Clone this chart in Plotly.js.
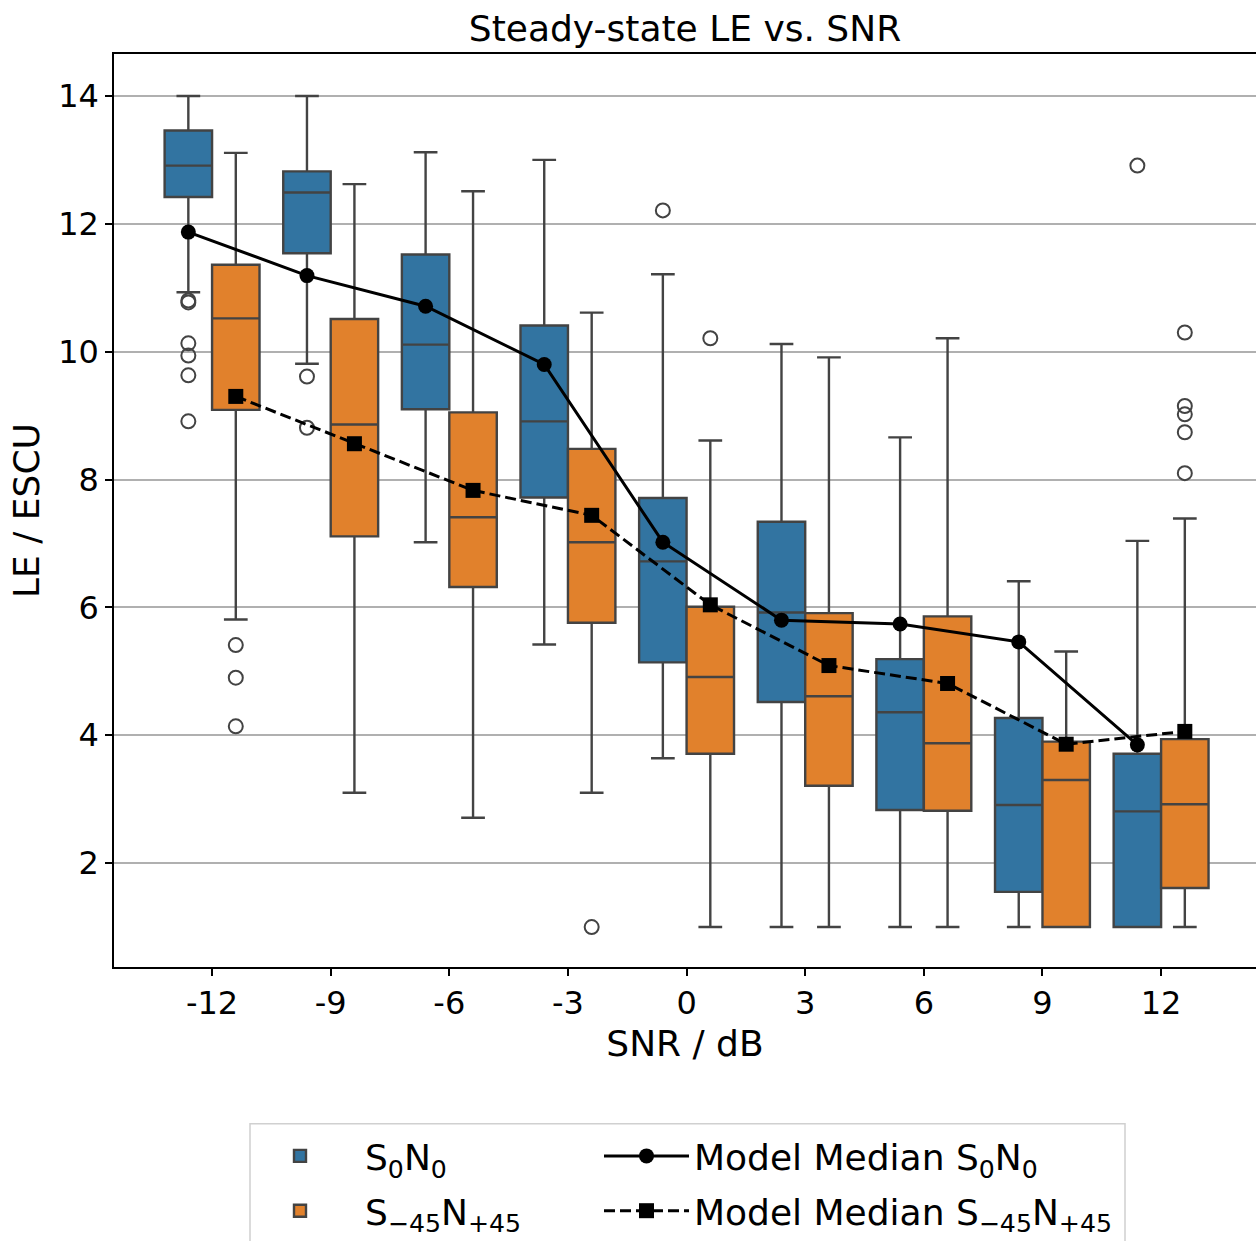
<!DOCTYPE html>
<html>
<head>
<meta charset="utf-8">
<script src="https://cdn.plot.ly/plotly-3.0.1.min.js"></script>
<style>html,body{margin:0;padding:0;background:#fff;}#chart{width:1256px;height:1241px;}</style>
</head>
<body>
<div id="chart"></div>
<script>
// ---- data ----
const snr = [-12, -9, -6, -3, 0, 3, 6, 9, 12];
const snrLabels = ['-12', '-9', '-6', '-3', '0', '3', '6', '9', '12'];

// S0N0 (blue) box statistics
const s0n0Upper = [14.0, 14.0, 13.12, 13.0, 11.21, 10.12, 8.66, 6.41, 7.04];
const s0n0Q3    = [13.46, 12.82, 11.52, 10.41, 7.71, 7.34, 5.19, 4.27, 3.71];
const s0n0Med   = [12.91, 12.49, 10.11, 8.91, 6.72, 5.92, 4.36, 2.91, 2.81];
const s0n0Q1    = [12.42, 11.54, 9.10, 7.72, 5.14, 4.52, 2.83, 1.55, 1.0];
const s0n0Lower = [10.93, 9.81, 7.02, 5.42, 3.64, 1.0, 1.0, 1.0, 1.0];
const s0n0Outliers = [[10.80, 10.77, 10.13, 9.94, 9.63, 8.91], [9.61, 8.81], [], [], [12.21], [], [], [], [12.91]];

// S-45N+45 (orange) box statistics
const s45Upper = [13.11, 12.62, 12.51, 10.61, 8.61, 9.91, 10.21, 5.31, 7.39];
const s45Q3    = [11.36, 10.51, 9.05, 8.48, 6.01, 5.91, 5.86, 3.90, 3.94];
const s45Med   = [10.52, 8.86, 7.41, 7.02, 4.91, 4.61, 3.875, 3.30, 2.92];
const s45Q1    = [9.09, 7.11, 6.32, 5.76, 3.71, 3.21, 2.82, 1.0, 1.61];
const s45Lower = [5.81, 3.10, 2.71, 3.10, 1.0, 1.0, 1.0, 1.0, 1.0];
const s45Outliers = [[5.41, 4.90, 4.14], [], [], [1.0], [10.21], [], [], [], [10.30, 9.15, 9.02, 8.74, 8.10]];

// model medians
const modelS0N0 = [11.87, 11.19, 10.71, 9.80, 7.02, 5.80, 5.74, 5.46, 3.85];
const modelS45  = [9.30, 8.56, 7.83, 7.44, 6.04, 5.09, 4.81, 3.86, 4.06];

// ---- styling ----
const BLUE = '#3274a1', ORANGE = '#e1812c', EDGE = '#434343';
const FONT = 'DejaVu Sans, sans-serif';
const dodge = 0.6, boxW = 1.2;

const xBlue = snr.map(s => s - dodge);
const xOrange = snr.map(s => s + dodge);

function flatten(outl, xs) {
  const ox = [], oy = [];
  outl.forEach((arr, i) => arr.forEach(v => { ox.push(xs[i]); oy.push(v); }));
  return {ox, oy};
}
const ob = flatten(s0n0Outliers, xBlue);
const oo = flatten(s45Outliers, xOrange);

const boxCommon = {
  type: 'box', width: boxW, whiskerwidth: 0.5, boxpoints: false,
  line: {color: EDGE, width: 2.4}, hoverinfo: 'skip', legend: 'legend'
};

const traces = [
  Object.assign({}, boxCommon, {
    name: 'S<sub>0</sub>N<sub>0</sub>', x: xBlue,
    q1: s0n0Q1, median: s0n0Med, q3: s0n0Q3, lowerfence: s0n0Lower, upperfence: s0n0Upper,
    fillcolor: BLUE, legendrank: 1, legendgroup: 'a'
  }),
  Object.assign({}, boxCommon, {
    name: 'S<sub>−45</sub>N<sub>+45</sub>', x: xOrange,
    q1: s45Q1, median: s45Med, q3: s45Q3, lowerfence: s45Lower, upperfence: s45Upper,
    fillcolor: ORANGE, legendrank: 2, legendgroup: 'b'
  }),
  {
    type: 'scatter', mode: 'markers', x: ob.ox, y: ob.oy, showlegend: false, hoverinfo: 'skip',
    marker: {symbol: 'circle-open', size: 14, color: EDGE, line: {width: 2, color: EDGE}}
  },
  {
    type: 'scatter', mode: 'markers', x: oo.ox, y: oo.oy, showlegend: false, hoverinfo: 'skip',
    marker: {symbol: 'circle-open', size: 14, color: EDGE, line: {width: 2, color: EDGE}}
  },
  {
    type: 'scatter', mode: 'lines+markers', name: 'Model Median S<sub>0</sub>N<sub>0</sub>',
    x: xBlue, y: modelS0N0, legend: 'legend2', legendrank: 1, legendgroup: 'c',
    line: {color: '#000', width: 3},
    marker: {symbol: 'circle', size: 15, color: '#000'}
  },
  {
    type: 'scatter', mode: 'lines+markers', name: 'Model Median S<sub>−45</sub>N<sub>+45</sub>',
    x: xOrange, y: modelS45, legend: 'legend2', legendrank: 2, legendgroup: 'd',
    line: {color: '#000', width: 3, dash: '11px,5px'},
    marker: {symbol: 'square', size: 15, color: '#000'}
  }
];

const legendCommon = {
  orientation: 'v', xanchor: 'left', yanchor: 'top', yref: 'paper', xref: 'paper',
  font: {family: FONT, size: 36, color: '#000'}, bgcolor: 'rgba(0,0,0,0)', borderwidth: 0,
  tracegroupgap: 5, traceorder: 'grouped', itemclick: false, itemdoubleclick: false
};

const layout = {
  width: 1256, height: 1241,
  margin: {l: 114, r: 0, t: 54, b: 273},
  paper_bgcolor: '#fff', plot_bgcolor: '#fff',
  font: {family: FONT, size: 32, color: '#000'},
  title: {text: 'Steady-state LE vs. SNR', font: {family: FONT, size: 36, color: '#000'},
          x: 0.5, xref: 'paper', y: 1 - 28 / 1241, yref: 'container', yanchor: 'middle'},
  xaxis: {
    range: [-14.48, 14.40], tickvals: snr, ticktext: snrLabels,
    ticks: 'outside', ticklen: 7, tickwidth: 1.5, tickcolor: '#000',
    showline: true, linecolor: '#000', linewidth: 1.5, mirror: true,
    showgrid: false, zeroline: false, tickfont: {family: FONT, size: 32, color: '#000'},
    title: {text: 'SNR / dB', font: {family: FONT, size: 36, color: '#000'}, standoff: 10}
  },
  yaxis: {
    range: [0.375, 14.656], tickvals: [2, 4, 6, 8, 10, 12, 14],
    ticks: 'outside', ticklen: 7, tickwidth: 1.5, tickcolor: '#000',
    showline: true, linecolor: '#000', linewidth: 1.5, mirror: true,
    showgrid: true, gridcolor: '#b0b0b0', gridwidth: 1.5, zeroline: false,
    tickfont: {family: FONT, size: 32, color: '#000'},
    title: {text: 'LE / ESCU', font: {family: FONT, size: 36, color: '#000'}, standoff: 8}
  },
  showlegend: true,
  legend: Object.assign({}, legendCommon, {x: (235 - 114) / 1142, y: (968 - 1127) / 914, itemwidth: 120}),
  legend2: Object.assign({}, legendCommon, {x: (599 - 114) / 1142, y: (968 - 1127) / 914, itemwidth: 85}),
  shapes: [{
    type: 'rect', xref: 'paper', yref: 'paper', layer: 'below',
    x0: (250 - 114) / 1142, x1: (1125 - 114) / 1142,
    y0: (968 - 1125) / 914, y1: (968 - 1260) / 914,
    line: {color: '#d0d0d0', width: 1.5}, fillcolor: 'rgba(255,255,255,0.8)'
  }]
};

Plotly.newPlot('chart', traces, layout, {displayModeBar: false, responsive: false});
</script>
</body>
</html>
